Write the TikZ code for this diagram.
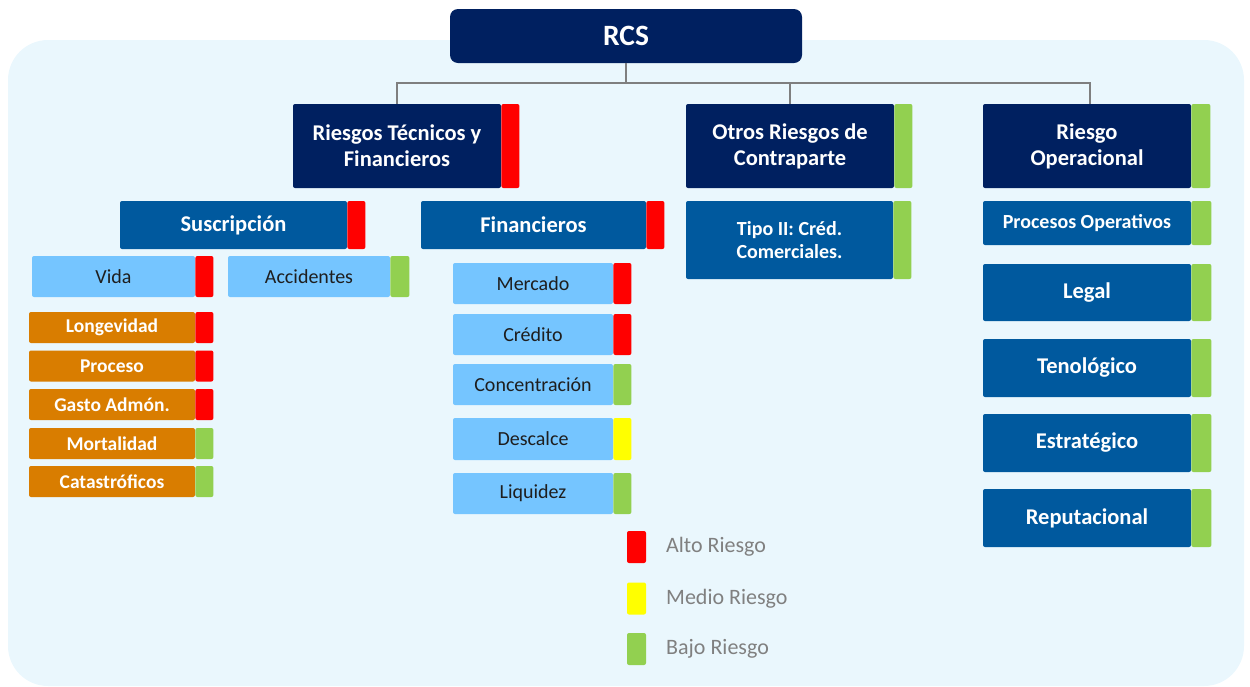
\documentclass[tikz,border=0pt]{standalone}
\usepackage{fontspec}
\setmainfont{Carlito}
\usetikzlibrary{positioning}
\definecolor{rcsnavy}{RGB}{0,32,96}
\definecolor{rcsblue}{RGB}{0,89,158}
\definecolor{rcslight}{RGB}{117,197,255}
\definecolor{rcsorange}{RGB}{217,125,0}
\definecolor{bgblue}{RGB}{234,247,253}
\definecolor{altored}{RGB}{255,0,0}
\definecolor{medioyellow}{RGB}{255,255,0}
\definecolor{bajogreen}{RGB}{146,208,80}
\definecolor{linegray}{RGB}{127,127,127}
\definecolor{legendgray}{RGB}{128,128,128}
\definecolor{darktext}{RGB}{30,30,30}

\tikzset{
  box/.style={rounded corners=2pt, inner sep=0pt, align=center},
  navybox/.style={box, fill=rcsnavy, text=white, minimum width=208pt, minimum height=84pt,
    font=\fontsize{22.5}{26}\selectfont\bfseries},
  bluebox/.style={box, fill=rcsblue, text=white, font=\fontsize{22.5}{26}\selectfont\bfseries},
  lightbox/.style={box, fill=rcslight, text=darktext, minimum height=41pt,
    font=\fontsize{20}{24}\selectfont},
  orangebox/.style={box, fill=rcsorange, text=white, minimum width=166pt, minimum height=31pt,
    font=\fontsize{19.5}{22}\selectfont\bfseries},
  bar/.style={rounded corners=2pt, inner sep=0pt, minimum width=18pt},
  conn/.style={draw=linegray, line width=2pt},
  legend/.style={anchor=west, inner sep=0pt, text=legendgray, font=\fontsize{22}{26}\selectfont}
}

\begin{document}
\begin{tikzpicture}[x=1pt, y=-1pt]
\useasboundingbox (0,0) rectangle (1250,686);
% background panel
\fill[bgblue, rounded corners=40pt] (8,40) rectangle (1244,686);

% top node
\node[box, fill=rcsnavy, text=white, rounded corners=8pt, minimum width=352pt, minimum height=54pt,
  font=\fontsize{29.5}{34}\selectfont\bfseries] (rcs) at (626,36) {RCS};

% first level
\node[navybox] (tecfin) at (397,146) {Riesgos Técnicos y\\Financieros};
\node[bar, fill=altored, minimum height=84pt, right=0pt of tecfin] (tecfinbar) {};
\node[navybox] (contra) at (790,146) {Otros Riesgos de\\Contraparte};
\node[bar, fill=bajogreen, minimum height=84pt, right=0pt of contra] (contrabar) {};
\node[navybox] (operac) at (1087,146) {Riesgo\\Operacional};
\node[bar, fill=bajogreen, minimum height=84pt, minimum width=19pt, right=0pt of operac] (operacbar) {};

\coordinate (split) at (626,83);
\draw[conn] (rcs) -- (split);
\draw[conn] (split) -| (tecfin);
\draw[conn] (split) -| (contra);
\draw[conn] (split) -| ([xshift=3pt]operac.north);

% second level
\node[bluebox, minimum width=227pt, minimum height=48pt] (suscr) at (233.5,225) {Suscripción};
\node[bar, fill=altored, minimum height=48pt, right=0pt of suscr] (suscrbar) {};
\node[bluebox, minimum width=225pt, minimum height=48pt] (finan) at (533.5,225) {Financieros};
\node[bar, fill=altored, minimum height=48pt, right=0pt of finan] (finanbar) {};
\node[bluebox, minimum width=207pt, minimum height=78pt, font=\fontsize{20}{23}\selectfont\bfseries] (tipo) at (789.5,240) {Tipo II: Créd.\\Comerciales.};
\node[bar, fill=bajogreen, minimum height=78pt, right=0pt of tipo] (tipobar) {};

% operational risks
\node[bluebox, minimum width=208pt, minimum height=44pt, font=\fontsize{20}{24}\selectfont\bfseries] (procop) at (1087,223) {Procesos Operativos};
\node[bar, fill=bajogreen, minimum height=44pt, minimum width=20pt, right=0pt of procop] (procopbar) {};
\node[bluebox, minimum width=208pt, minimum height=57pt] (legal) at (1087,292.5) {Legal};
\node[bar, fill=bajogreen, minimum height=57pt, minimum width=20pt, right=0pt of legal] (legalbar) {};
\node[bluebox, minimum width=208pt, minimum height=58pt] (tecno) at (1087,368) {Tenológico};
\node[bar, fill=bajogreen, minimum height=58pt, minimum width=20pt, right=0pt of tecno] (tecnobar) {};
\node[bluebox, minimum width=208pt, minimum height=58pt] (estra) at (1087,443) {Estratégico};
\node[bar, fill=bajogreen, minimum height=58pt, minimum width=20pt, right=0pt of estra] (estrabar) {};
\node[bluebox, minimum width=208pt, minimum height=58pt] (reput) at (1087,518) {Reputacional};
\node[bar, fill=bajogreen, minimum height=58pt, minimum width=20pt, right=0pt of reput] (reputbar) {};

% underwriting
\node[lightbox, minimum width=163pt] (vida) at (113.5,276.5) {Vida};
\node[bar, fill=altored, minimum height=41pt, right=0pt of vida] (vidabar) {};
\node[lightbox, minimum width=162pt] (accid) at (309,276.5) {Accidentes};
\node[bar, fill=bajogreen, minimum height=41pt, minimum width=19pt, right=0pt of accid] (accidbar) {};

\node[orangebox] (longe) at (112,327.5) {Longevidad};
\node[bar, fill=altored, minimum height=31pt, right=0pt of longe] (longebar) {};
\node[orangebox] (proce) at (112,366) {Proceso};
\node[bar, fill=altored, minimum height=31pt, right=0pt of proce] (procebar) {};
\node[orangebox] (gasto) at (112,404.5) {Gasto Admón.};
\node[bar, fill=altored, minimum height=31pt, right=0pt of gasto] (gastobar) {};
\node[orangebox] (morta) at (112,443.5) {Mortalidad};
\node[bar, fill=bajogreen, minimum height=31pt, right=0pt of morta] (mortabar) {};
\node[orangebox] (catas) at (112,481.5) {Catastróficos};
\node[bar, fill=bajogreen, minimum height=31pt, right=0pt of catas] (catasbar) {};

% financial risks
\node[lightbox, minimum width=160pt] (merca) at (533,283.5) {Mercado};
\node[bar, fill=altored, minimum height=41pt, right=0pt of merca] (mercabar) {};
\node[lightbox, minimum width=160pt] (credi) at (533,334.5) {Crédito};
\node[bar, fill=altored, minimum height=41pt, right=0pt of credi] (credibar) {};
\node[lightbox, minimum width=160pt] (conce) at (533,384.5) {Concentración};
\node[bar, fill=bajogreen, minimum height=41pt, right=0pt of conce] (concebar) {};
\node[lightbox, minimum width=160pt, minimum height=42pt] (desca) at (533,439) {Descalce};
\node[bar, fill=medioyellow, minimum height=42pt, right=0pt of desca] (descabar) {};
\node[lightbox, minimum width=160pt] (liqui) at (533,493.5) {Liquidez};
\node[bar, fill=bajogreen, minimum height=41pt, right=0pt of liqui] (liquibar) {};

% legend
\node[bar, fill=altored, minimum width=19pt, minimum height=32pt] (altokey) at (636.5,547) {};
\node[legend] (altotext) at (666,547) {Alto Riesgo};
\node[bar, fill=medioyellow, minimum width=19pt, minimum height=32pt] (mediokey) at (636.5,598.5) {};
\node[legend] (mediotext) at (666,598.5) {Medio Riesgo};
\node[bar, fill=bajogreen, minimum width=19pt, minimum height=32pt] (bajokey) at (636.5,649) {};
\node[legend] (bajotext) at (666,649) {Bajo Riesgo};
\end{tikzpicture}
\end{document}
